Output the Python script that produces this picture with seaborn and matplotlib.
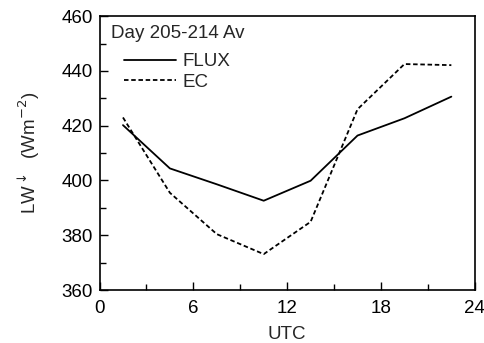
import matplotlib
matplotlib.use("Agg")
import matplotlib.pyplot as plt
import seaborn as sns
import pandas as pd
from matplotlib.ticker import MultipleLocator
from matplotlib.lines import Line2D

hours = [1.5, 4.5, 7.5, 10.5, 13.5, 16.5, 19.5, 22.5]
flux = [420.2, 404.4, 398.6, 392.6, 399.9, 416.4, 422.7, 430.6]
ec = [423.0, 395.5, 380.4, 373.1, 384.9, 426.0, 442.5, 442.1]
series_names = ["FLUX", "EC"]

df = pd.DataFrame({
    "UTC": hours * 2,
    "LW": flux + ec,
    "series": [series_names[0]] * len(hours) + [series_names[1]] * len(hours),
})

sns.set_style("ticks")
plt.rcParams["font.family"] = ["Liberation Sans", "DejaVu Sans"]
FS = 13.5

fig = plt.figure(figsize=(4.84, 3.43), dpi=100)
ax = fig.add_axes([0.2056, 0.1545, 0.981 - 0.2056, 0.953 - 0.1545])

sns.lineplot(data=df, x="UTC", y="LW", hue="series", style="series",
             palette={"FLUX": "black", "EC": "black"},
             dashes={"FLUX": "", "EC": (2.5, 1.5)}, linewidth=1.3, ax=ax,
             legend=False)

ax.set_xlim(0, 24)
ax.set_ylim(360, 460)
ax.xaxis.set_major_locator(MultipleLocator(6))
ax.xaxis.set_minor_locator(MultipleLocator(3))
ax.yaxis.set_major_locator(MultipleLocator(20))
ax.yaxis.set_minor_locator(MultipleLocator(10))
ax.tick_params(which="both", direction="in", top=False, right=False, labelsize=FS, width=1, colors="black")
ax.tick_params(which="major", length=6)
ax.tick_params(axis="x", which="major", pad=7)
ax.tick_params(axis="y", which="major", pad=5)
ax.tick_params(which="minor", length=4)
for s in ax.spines.values():
    s.set_linewidth(1.2)
    s.set_color("black")

ax.set_xlabel("UTC", fontsize=FS, labelpad=7)
ax.set_ylabel("LW$^{\\downarrow}$  (Wm$^{-2}$)", fontsize=FS, labelpad=14)

ax.text(0.03, 0.935, "Day 205-214 Av", transform=ax.transAxes, fontsize=FS, va="center", ha="left")
handles = [Line2D([], [], color="black", lw=1.3),
           Line2D([], [], color="black", lw=1.3, dashes=(2.5, 1.5))]
ax.legend(handles, series_names, loc="upper left", bbox_to_anchor=(0.065, 0.865),
          frameon=False, fontsize=FS, handlelength=2.8, handletextpad=0.35,
          labelspacing=0.17, borderaxespad=0, borderpad=0)

fig.savefig("out.png", dpi=100)
